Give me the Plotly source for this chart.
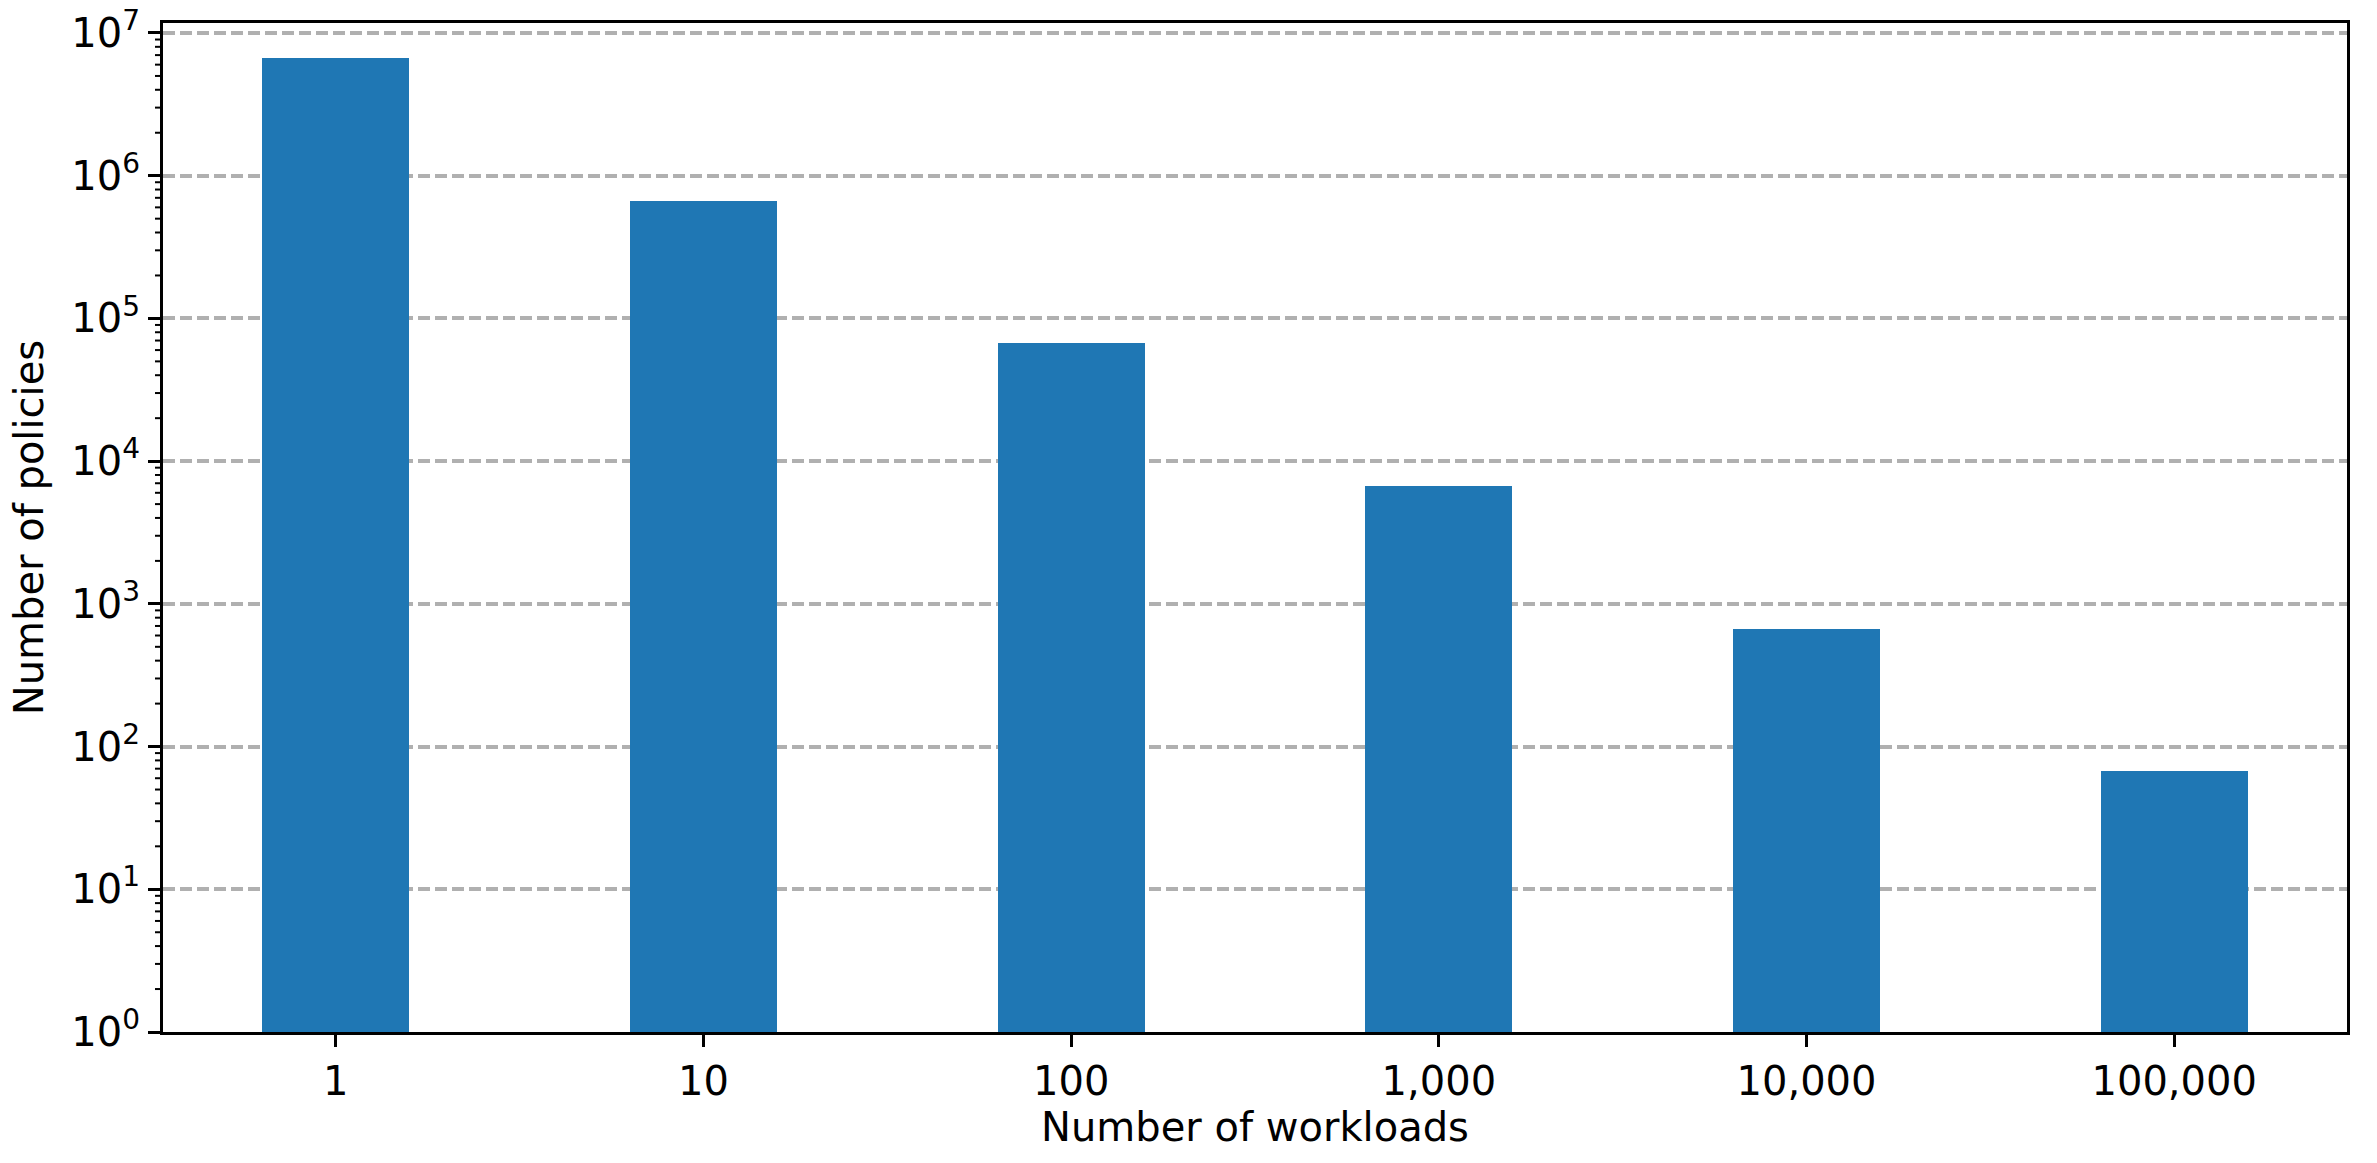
import plotly.graph_objects as go

categories = ["1", "10", "100", "1,000", "10,000", "100,000"]
policies = [6.7e6, 6.7e5, 6.7e4, 6.7e3, 670, 67]
y_tick_vals = [1, 10, 100, 1e3, 1e4, 1e5, 1e6, 1e7]
y_tick_text = ["10<sup>%d</sup>" % i for i in range(8)]
y_minor_vals = [m * 10 ** e for e in range(7) for m in range(2, 10)]

positions = list(range(len(categories)))

FONT = "DejaVu Sans"
Y_MAX_LOG = 7.07
PLOT_W = 2184  # plot-area width in px (2377 - 163 - 30)

fig = go.Figure()
fig.add_trace(go.Bar(
    x=positions, y=policies, width=0.4,
    marker=dict(color="#1f77b4", line=dict(width=0)),
    showlegend=False,
))

# minor log ticks on the left spine (axis decoration, data-valued y)
minor_shapes = [
    dict(type="line", xref="x domain", yref="y",
         x0=-8 / PLOT_W, x1=0, y0=v, y1=v,
         line=dict(color="black", width=2), layer="above")
    for v in y_minor_vals
]

fig.update_layout(
    width=2377, height=1163,
    margin=dict(l=163, r=30, t=23, b=131),
    paper_bgcolor="white", plot_bgcolor="white",
    font=dict(family=FONT, size=40, color="black"),
    bargap=0,
    shapes=minor_shapes,
)
fig.update_xaxes(
    range=[-0.47, 5.47], automargin=False,
    tickmode="array", tickvals=positions, ticktext=categories,
    ticks="outside", ticklen=12, tickwidth=3, tickcolor="black",
    showline=True, linewidth=3, linecolor="black", mirror=True,
    showgrid=False, zeroline=False,
    title=dict(text="Number of workloads", standoff=10, font=dict(size=40)),
    tickfont=dict(size=40),
)
fig.update_yaxes(
    type="log", range=[0, Y_MAX_LOG], automargin=False,
    tickmode="array", tickvals=y_tick_vals, ticktext=y_tick_text,
    ticks="outside", ticklen=12, tickwidth=3, tickcolor="black",
    showline=True, linewidth=3, linecolor="black", mirror=True,
    showgrid=True, gridcolor="#b0b0b0", gridwidth=4, griddash="12px,5px",
    zeroline=False,
    title=dict(text="Number of policies", standoff=16, font=dict(size=40)),
    tickfont=dict(size=40),
)

fig.write_html("out.html", config={"displayModeBar": False},
               post_script="document.body.style.margin='0';")
